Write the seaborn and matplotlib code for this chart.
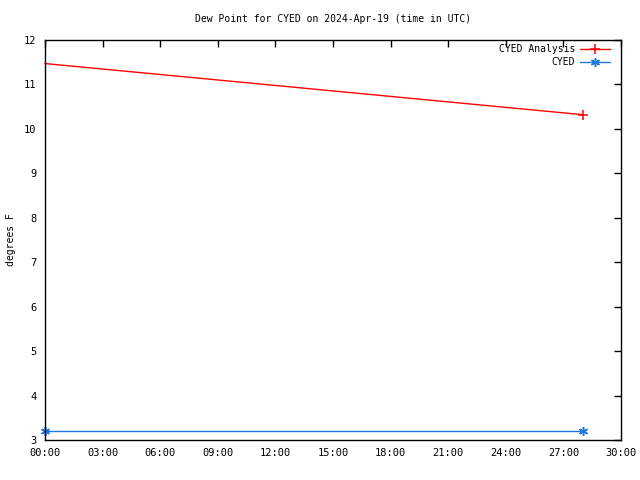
import matplotlib
matplotlib.use("Agg")
import matplotlib.pyplot as plt
import seaborn as sns
import pandas as pd

# Data (hours since 2024-04-19 00:00 UTC)
analysis_hours = [0, 28]
analysis_values = [11.47, 10.32]
obs_hours = [0, 28]
obs_values = [3.2, 3.2]
x_ticks = [0, 3, 6, 9, 12, 15, 18, 21, 24, 27, 30]
x_tick_labels = [f"{h:02d}:00" for h in x_ticks]
y_ticks = [3, 4, 5, 6, 7, 8, 9, 10, 11, 12]

RED = "#ff0000"
BLUE = "#1f7ae0"

sns.set_style("white")
plt.rcParams['font.family'] = ['DejaVu Sans Mono', 'DejaVu Sans']
plt.rcParams['font.size'] = 7
plt.rcParams['text.color'] = 'black'
plt.rcParams['axes.labelcolor'] = 'black'

df_a = pd.DataFrame({"hour": analysis_hours, "value": analysis_values})
df_o = pd.DataFrame({"hour": obs_hours, "value": obs_values})

fig = plt.figure(figsize=(6.4, 4.8), dpi=100)
ax = fig.add_axes([45/640, 1-440/480, 576/640, 400/480])

sns.lineplot(data=df_a, x="hour", y="value", ax=ax, label="CYED Analysis",
             color=RED, linewidth=1, marker="+", markersize=7,
             markeredgewidth=1.1, markeredgecolor=RED,
             markevery=[len(analysis_hours) - 1], clip_on=False)
sns.lineplot(data=df_o, x="hour", y="value", ax=ax, label="CYED",
             color=BLUE, linewidth=1, marker=(6, 2, 0), markersize=6.5,
             markeredgewidth=1.1, markeredgecolor=BLUE, clip_on=False)

ax.set_xlim(0, 30)
ax.set_ylim(3, 12)
ax.set_xticks(x_ticks)
ax.set_xticklabels(x_tick_labels)
ax.set_yticks(y_ticks)
ax.tick_params(direction="in", length=5, width=1, top=True, right=True,
               labelsize=7.5, pad=6, colors="black")
for s in ax.spines.values():
    s.set_visible(True)
    s.set_color("black")
    s.set_linewidth(1)

ax.set_xlabel("")
ax.set_ylabel("degrees F", fontsize=7, labelpad=6)
ax.set_title("Dew Point for CYED on 2024-Apr-19 (time in UTC)", fontsize=7, pad=13)

ax.legend(loc="upper right", bbox_to_anchor=(0.981, 0.99), frameon=False,
          markerfirst=False, fontsize=7, handlelength=3.1, borderaxespad=0,
          borderpad=0, labelspacing=0.3, handletextpad=0.5)

fig.savefig("out.png", dpi=100)
